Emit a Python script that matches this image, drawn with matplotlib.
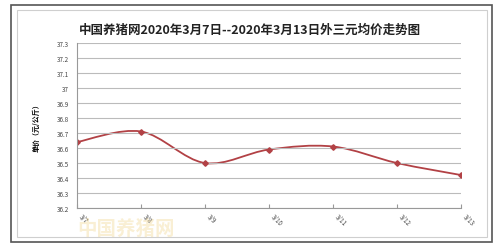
import matplotlib.pyplot as plt
from matplotlib.path import Path
from matplotlib.patches import PathPatch, Rectangle

plt.rcParams['font.family'] = ['Noto Sans CJK SC', 'DejaVu Sans']

dates = ["3/7", "3/8", "3/9", "3/10", "3/11", "3/12", "3/13"]
prices = [36.64, 36.71, 36.50, 36.59, 36.61, 36.50, 36.42]
yticks = [36.2, 36.3, 36.4, 36.5, 36.6, 36.7, 36.8, 36.9, 37, 37.1, 37.2, 37.3]
title = "中国养猪网2020年3月7日--2020年3月13日外三元均价走势图"
line_color = "#b24145"


def smooth_path(xs, ys, t=0.5):
    # Catmull-Rom style bezier through the data points (like Excel smoothing)
    verts = [(xs[0], ys[0])]
    codes = [Path.MOVETO]
    n = len(xs)
    for i in range(n - 1):
        x0, y0 = (xs[i - 1], ys[i - 1]) if i > 0 else (xs[i], ys[i])
        x1, y1 = xs[i], ys[i]
        x2, y2 = xs[i + 1], ys[i + 1]
        x3, y3 = (xs[i + 2], ys[i + 2]) if i + 2 < n else (x2, y2)
        c1 = (x1 + (x2 - x0) * t / 3, y1 + (y2 - y0) * t / 3)
        c2 = (x2 - (x3 - x1) * t / 3, y2 - (y3 - y1) * t / 3)
        verts += [c1, c2, (x2, y2)]
        codes += [Path.CURVE4] * 3
    return Path(verts, codes)


fig = plt.figure(figsize=(5, 2.51), dpi=100)
fig.patch.set_facecolor("white")

# outer frame
fig.add_artist(Rectangle((0.022, 0.03), 0.962, 0.945, transform=fig.transFigure,
                         fill=False, edgecolor="#555555", linewidth=1.2))
fig.add_artist(Rectangle((0.034, 0.05), 0.94, 0.905, transform=fig.transFigure,
                         fill=False, edgecolor="#cfcfcf", linewidth=0.8))

ax = fig.add_axes([0.154, 0.167, 0.768, 0.658])
xs = list(range(len(dates)))
ax.add_patch(PathPatch(smooth_path(xs, prices), fill=False, edgecolor=line_color, linewidth=1.3))
ax.plot(xs, prices, linestyle="none", marker="D", markersize=2.8, color=line_color)

ax.set_xlim(0, len(dates) - 1)
ax.set_ylim(36.2, 37.3)
ax.set_yticks(yticks)
ax.set_yticklabels([f"{v:g}" for v in yticks], fontsize=4.5, color="#444444")
ax.set_xticks(xs)
ax.set_xticklabels(dates, fontsize=4.5, color="#444444", rotation=-45, ha="left", va="top")
ax.tick_params(axis="y", length=0, pad=6)
ax.tick_params(axis="x", length=3, color="#999999", direction="in", pad=3)
ax.grid(axis="y", color="#bbbbbb", linewidth=0.8)
for s in ["top", "right"]:
    ax.spines[s].set_visible(False)
ax.spines["left"].set_color("#999999")
ax.spines["bottom"].set_color("#999999")

ax.set_ylabel("单价（元/公斤）", fontsize=5, fontweight="bold", labelpad=12)
fig.text(0.5, 0.88, title, ha="center", va="center", fontsize=9, fontweight="bold", color="#222222")

# watermark
fig.text(0.155, 0.065, "中国养猪网", fontsize=14, fontweight="bold", color="#f3dca0", alpha=0.45)

fig.savefig("out.png", dpi=100)
